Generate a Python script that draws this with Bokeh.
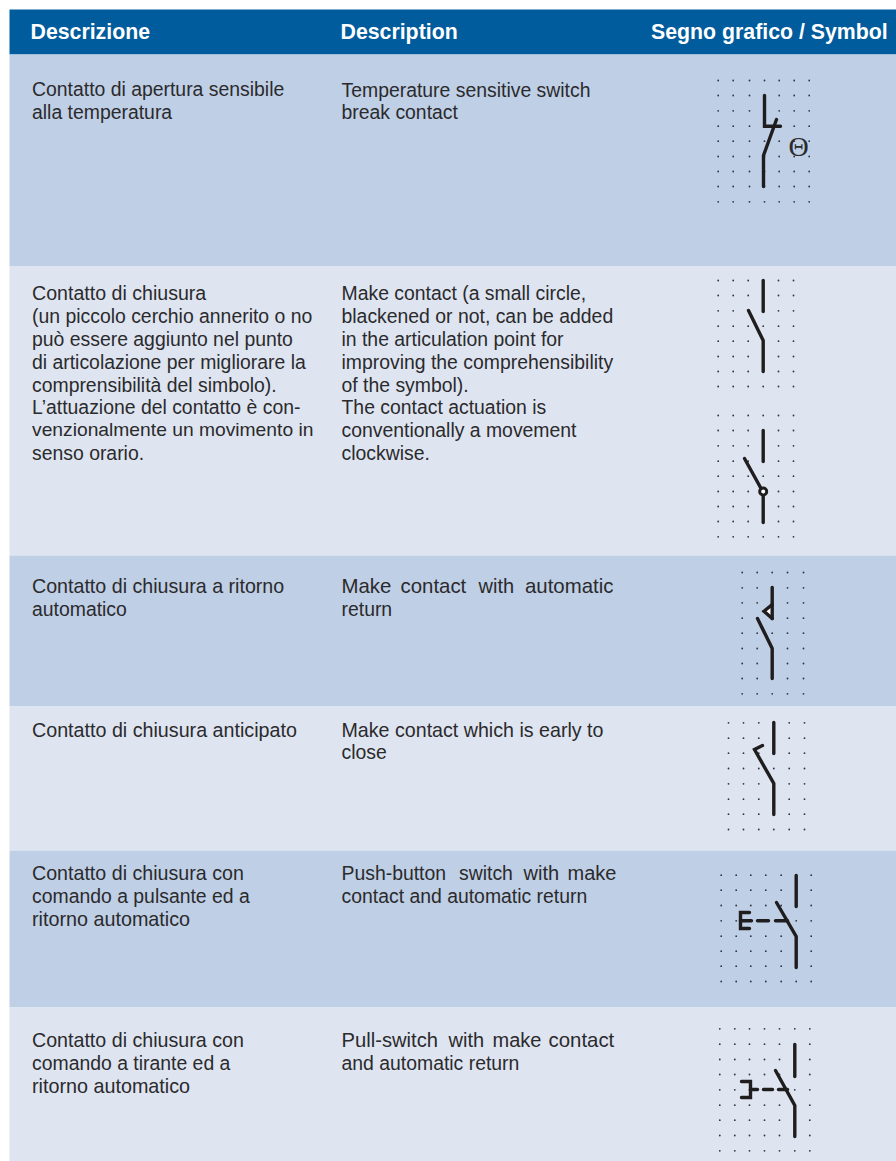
from itertools import product
from bokeh.plotting import figure
from bokeh.embed import file_html
from bokeh.resources import INLINE
from bokeh.core.properties import value

HEADERS = ["Descrizione", "Description", "Segno grafico / Symbol"]
HEADER_X = [30, 340, 650.5]
HEADER_Y = [31, 31, 31]
ROW_EDGES = [54, 265.5, 555, 706, 850, 1007, 1161]
ROW_COLORS = ["#bfcfe6", "#dee5f1", "#bfcfe6", "#dee5f1", "#bfcfe6", "#dee5f1"]

# x, y, text
IT_LINES = [
    (31.5, 88, "Contatto di apertura sensibile"), (31.5, 111, "alla temperatura"),
    (31.5, 292, "Contatto di chiusura"), (31.5, 315, "(un piccolo cerchio annerito o no"),
    (31.5, 338, "può essere aggiunto nel punto"), (31.5, 361, "di articolazione per migliorare la"),
    (31.5, 384, "comprensibilità del simbolo)."), (31.5, 406, "L’attuazione del contatto è con-"),
    (31.5, 429, "venzionalmente un movimento in"), (31.5, 452, "senso orario."),
    (31.5, 585, "Contatto di chiusura a ritorno"), (31.5, 608, "automatico"),
    (31.5, 729, "Contatto di chiusura anticipato"),
    (31.5, 872, "Contatto di chiusura con"), (31.5, 895, "comando a pulsante ed a"),
    (31.5, 918, "ritorno automatico"),
    (31.5, 1039, "Contatto di chiusura con"), (31.5, 1062, "comando a tirante ed a"),
    (31.5, 1085, "ritorno automatico"),
]
EN_LINES = [
    (341, 89, "Temperature sensitive switch"), (341, 111, "break contact"),
    (341, 292, "Make contact (a small circle,"), (341, 315, "blackened or not, can be added"),
    (341, 338, "in the articulation point for"), (341, 361, "improving the comprehensibility"),
    (341, 384, "of the symbol)."), (341, 406, "The contact actuation is"),
    (341, 429, "conventionally a movement"), (341, 452, "clockwise."),
    (341, 585, "Make"), (400, 585, "contact"), (478, 585, "with"), (524.5, 585, "automatic"),
    (341, 608, "return"),
    (341, 729, "Make contact which is early to"), (341, 751, "close"),
    (341, 872, "Push-button"), (458.5, 872, "switch"), (523, 872, "with"), (567, 872, "make"),
    (341, 895, "contact and automatic return"),
    (341, 1039, "Pull-switch"), (448, 1039, "with"), (492, 1039, "make"), (548, 1039, "contact"),
    (341, 1062, "and automatic return"),
]
# the print's justified and tracked lines run a little wider than the default size
BODY_SIZE = 19.4
SIZE_BY_TEXT = {
    "Contatto di chiusura anticipato": 19.7, "Contatto di chiusura a ritorno": 19.65,
    "Contatto di chiusura con": 19.65, "ritorno automatico": 19.75,
    "Make contact which is early to": 19.65, "venzionalmente un movimento in": 19.25,
    "Contatto di chiusura": 19.6,
    "Make": 20.4, "contact": 20.4, "automatic": 20.4,
    "Pull-switch": 20.2, "make": 20.0, "with": 20.0,
}

DOT_GRIDS = [
    ([717.7, 732.7, 749, 764, 778.7, 793.7, 808.7], [80, 95, 110.3, 125.7, 140.7, 156, 171, 186, 201.3]),
    ([717.7, 732.7, 747.7, 762.7, 778, 793], [280, 295, 310.3, 325.7, 340.7, 356, 371, 386]),
    ([717.7, 732.7, 747.7, 762.7, 778, 793], [415, 430, 445.3, 460.7, 475.7, 491, 506, 521, 536.3]),
    ([741.7, 756.7, 771.7, 787, 803], [572, 587.3, 602.3, 617.7, 632.7, 648, 663, 678, 693.3]),
    ([728, 743, 758.3, 773.3, 788.7, 804], [722.3, 737.7, 752.7, 768, 783.3, 798.7, 813.7, 829]),
    ([720.7, 735.7, 750.3, 765.3, 780.7, 795.7, 810.7], [874.7, 889.7, 905, 920.3, 935.7, 950.7, 965.7, 981]),
    ([719.3, 734.3, 749, 764, 779, 794.3, 809.3], [1028.3, 1043.7, 1059, 1074, 1089.3, 1104.7, 1119.7, 1135, 1150.3]),
]

STROKES = [
    ([764, 764, 780], [95, 125.7, 125.7]), ([776, 763, 763], [119, 155, 186]),
    ([762.7, 762.7], [280, 311]), ([748, 762.7, 762.7], [310, 340, 371]),
    ([762.7, 762.7], [430, 461]), ([744, 760], [458, 487]), ([762.7, 762.7], [495, 522]),
    ([771.7, 771.7], [587, 618]), ([771.7, 763.5, 771.7], [604, 610.7, 618]),
    ([757, 771.7, 771.7], [618, 648, 678]),
    ([773.3, 773.3], [722, 753]), ([762, 754, 773.3, 773.3], [745, 749, 783, 814]),
    ([795.7, 795.7], [875, 906]), ([776, 795.7, 795.7], [902, 936, 967]),
    ([749, 740, 740, 749], [912, 912, 928, 928]), ([740, 751], [920.3, 920.3]),
    ([757, 768], [920.3, 920.3]), ([775, 787], [920.3, 920.3]),
    ([794.3, 794.3], [1044, 1076]), ([775, 794.3, 794.3], [1070, 1105, 1136]),
    ([741, 750, 750, 741], [1081, 1081, 1097, 1097]), ([750, 757], [1089, 1089]),
    ([763, 772], [1089, 1089]), ([778, 787], [1089, 1089]),
]
WHITE_TRIANGLE = ([771, 765.5, 771], [606, 610.7, 615])
CIRCLE = (762.7, 491)
THETA = (798, 145.5, "Θ")

FONT = value("Liberation Sans")
p = figure(width=896, height=1161, x_range=(0, 896), y_range=(1161, 0),
           output_backend="svg", toolbar_location=None, min_border=0,
           background_fill_color="white", border_fill_color="white", outline_line_color=None)
p.axis.visible = False
p.grid.visible = False

p.quad(left=[9], right=[896], top=[9], bottom=[54], fill_color="#005c9c", line_color=None)
p.quad(left=[9] * len(ROW_COLORS), right=[896] * len(ROW_COLORS),
       top=ROW_EDGES[:-1], bottom=ROW_EDGES[1:], fill_color=ROW_COLORS, line_color=None)

p.text(x=HEADER_X, y=HEADER_Y, text=HEADERS, text_color="white", text_font=FONT,
       text_font_style="bold", text_font_size="21.3px", text_baseline="alphabetic")

for lines in (IT_LINES, EN_LINES):
    sizes = sorted({SIZE_BY_TEXT.get(r[2], BODY_SIZE) for r in lines})
    for size in sizes:
        group = [r for r in lines if SIZE_BY_TEXT.get(r[2], BODY_SIZE) == size]
        p.text(x=[r[0] for r in group], y=[r[1] for r in group], text=[r[2] for r in group],
               text_color="#2b2a2c", text_font=FONT, text_font_size=f"{size}px",
               text_baseline="alphabetic")

dx, dy = [], []
for xs, ys in DOT_GRIDS:
    for x, y in product(xs, ys):
        dx.append(x)
        dy.append(y)
p.scatter(dx, dy, marker="circle", size=1.8, fill_color="#33333d", line_color=None)

p.patch(*WHITE_TRIANGLE, fill_color="white", line_color=None)
p.multi_line([s[0] for s in STROKES], [s[1] for s in STROKES], line_color="#1f1d1e",
             line_width=3.4, line_cap="round", line_join="miter")
p.scatter([CIRCLE[0]], [CIRCLE[1]], marker="circle", size=7, fill_color="white",
          line_color="#1f1d1e", line_width=3)
p.text(x=[THETA[0]], y=[THETA[1]], text=[THETA[2]], text_font=value("Liberation Serif"),
       text_font_size="28px", text_align="center", text_baseline="middle", text_color="#2b2a2c")

open("out.html", "w").write(file_html(p, INLINE))
